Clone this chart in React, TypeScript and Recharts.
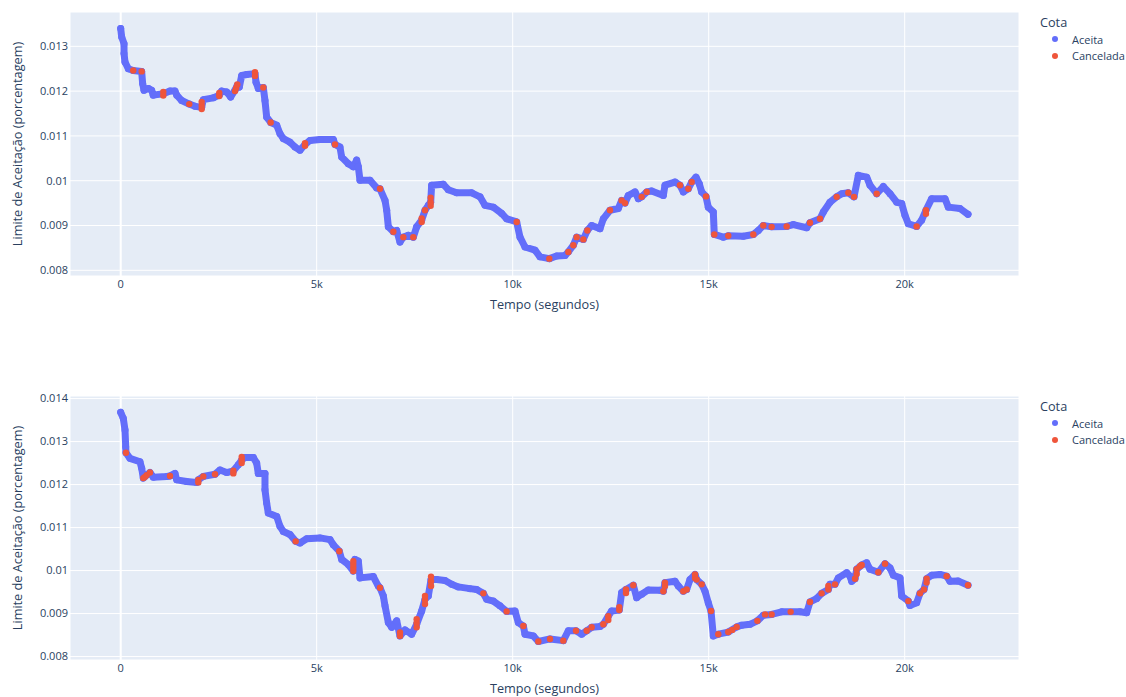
import {
  CartesianGrid,
  Legend,
  ReferenceLine,
  Scatter,
  ScatterChart,
  XAxis,
  YAxis,
} from "recharts";

// [tempo (s), limite de aceitação] — primeira simulação
const aceitaTopo: [number, number][] = [
  [0, 0.0134], [25, 0.01321], [85, 0.01306], [85, 0.01284], [110, 0.01265],
  [195, 0.0125], [320, 0.01246], [535, 0.01244], [560, 0.01217], [595, 0.01202],
  [705, 0.01206], [790, 0.01202], [830, 0.01191], [1087, 0.01194], [1258, 0.012],
  [1385, 0.012], [1430, 0.01191], [1556, 0.01179], [1750, 0.01171], [1895, 0.01166],
  [2066, 0.01164], [2108, 0.01181], [2363, 0.01185], [2515, 0.01191], [2576, 0.012],
  [2704, 0.01198], [2806, 0.01187], [2916, 0.01202], [2975, 0.01213], [3026, 0.01209],
  [3087, 0.01235], [3214, 0.01237], [3426, 0.01239], [3452, 0.0122], [3510, 0.01206],
  [3638, 0.01208], [3681, 0.01179], [3724, 0.01142], [3827, 0.0113], [3980, 0.01124],
  [4064, 0.01105], [4148, 0.01094], [4319, 0.01086], [4447, 0.01075], [4574, 0.01068],
  [4702, 0.01081], [4829, 0.0109], [5084, 0.01092], [5424, 0.01092], [5467, 0.01081],
  [5594, 0.01075], [5637, 0.01053], [5807, 0.01038], [5934, 0.01031], [6020, 0.01046],
  [6062, 0.01031], [6105, 0.01001], [6360, 0.01001], [6530, 0.00984], [6615, 0.00982],
  [6743, 0.00956], [6786, 0.00934], [6828, 0.00897], [6956, 0.00886], [7041, 0.00889],
  [7125, 0.00863], [7210, 0.00874], [7338, 0.00878], [7465, 0.00874], [7550, 0.00897],
  [7678, 0.00912], [7763, 0.00934], [7848, 0.00945], [7908, 0.00952], [7933, 0.0099],
  [8230, 0.00992], [8357, 0.0098], [8571, 0.00973], [8954, 0.00973], [9166, 0.00964],
  [9293, 0.00945], [9506, 0.00941], [9719, 0.00927], [9847, 0.00915], [10102, 0.00908],
  [10187, 0.00874], [10314, 0.00852], [10569, 0.00845], [10697, 0.0083], [10934, 0.00826],
  [11122, 0.00832], [11334, 0.00833], [11419, 0.00841], [11547, 0.00856], [11632, 0.00874],
  [11802, 0.00869], [11904, 0.00889], [12015, 0.009], [12227, 0.00893], [12312, 0.00915],
  [12482, 0.00934], [12694, 0.00938], [12780, 0.00956], [12865, 0.0095], [12949, 0.00967],
  [13120, 0.00975], [13205, 0.0096], [13290, 0.00964], [13418, 0.00975], [13545, 0.00977],
  [13843, 0.00967], [13885, 0.0099], [14140, 0.00997], [14268, 0.0099], [14353, 0.00975],
  [14480, 0.00982], [14566, 0.00997], [14676, 0.01008], [14760, 0.00993], [14821, 0.00975],
  [14931, 0.00965], [14990, 0.00941], [15118, 0.0093], [15143, 0.0088], [15373, 0.00874],
  [15500, 0.00877], [15883, 0.00876], [16138, 0.0088], [16266, 0.00889], [16393, 0.009],
  [16606, 0.00897], [16989, 0.00898], [17159, 0.00902], [17500, 0.00895], [17584, 0.00906],
  [17839, 0.00915], [17924, 0.0093], [18094, 0.00952], [18265, 0.00964], [18393, 0.00971],
  [18562, 0.00973], [18707, 0.00964], [18817, 0.01012], [19030, 0.01008], [19115, 0.0099],
  [19286, 0.00971], [19455, 0.00987], [19626, 0.00971], [19796, 0.00952], [19923, 0.00949],
  [20007, 0.00923], [20092, 0.00904], [20305, 0.00898], [20432, 0.00912], [20542, 0.00934],
  [20688, 0.0096], [21027, 0.0096], [21113, 0.00941], [21410, 0.00938], [21615, 0.00925],
];

const canceladaTopo: [number, number][] = [
  [320, 0.01246], [535, 0.01244], [1087, 0.01198], [1087, 0.0119], [1750, 0.01171],
  [2066, 0.0116], [2066, 0.01168], [2066, 0.01176], [2515, 0.01189], [2515, 0.01196],
  [2916, 0.012], [2945, 0.01207], [2975, 0.01215], [3426, 0.01234], [3426, 0.01242],
  [3638, 0.01208], [3827, 0.0113], [4702, 0.01078], [4702, 0.01084], [5467, 0.01081],
  [6615, 0.00982], [6956, 0.00886], [7210, 0.00874], [7465, 0.00874], [7678, 0.00908],
  [7678, 0.00916], [7763, 0.00934], [7908, 0.00944], [7908, 0.00952], [7908, 0.00962],
  [10102, 0.00908], [10934, 0.00826], [11419, 0.00841], [11547, 0.00856], [11632, 0.00874],
  [11802, 0.00869], [11904, 0.00889], [12482, 0.00934], [12780, 0.00956], [12865, 0.0095],
  [13290, 0.00964], [13418, 0.00975], [14268, 0.0099], [14480, 0.00982], [14566, 0.00997],
  [14931, 0.00965], [15143, 0.0088], [15500, 0.00877], [16138, 0.0088], [16393, 0.009],
  [16606, 0.00897], [16989, 0.00898], [17584, 0.00906], [17839, 0.00915], [18265, 0.00964],
  [18562, 0.00973], [18707, 0.00964], [19286, 0.00971], [20305, 0.00898], [20542, 0.00934],
  [20542, 0.00926],
];

// [tempo (s), limite de aceitação] — segunda simulação
const aceitaBase: [number, number][] = [
  [0, 0.01368], [66, 0.01354], [110, 0.01327], [128, 0.01288], [135, 0.01274],
  [237, 0.01261], [492, 0.01253], [536, 0.01238], [577, 0.01215], [663, 0.01222],
  [747, 0.01228], [832, 0.01217], [1173, 0.01219], [1258, 0.0122], [1385, 0.01226],
  [1429, 0.01211], [1684, 0.01207], [1939, 0.01205], [1981, 0.01211], [2108, 0.01219],
  [2406, 0.01224], [2534, 0.01234], [2704, 0.01228], [2874, 0.01232], [3001, 0.01246],
  [3087, 0.01257], [3171, 0.01263], [3383, 0.01263], [3469, 0.0125], [3510, 0.01226],
  [3681, 0.01226], [3681, 0.01188], [3724, 0.01157], [3765, 0.01134], [3980, 0.01126],
  [4064, 0.01103], [4148, 0.01091], [4319, 0.01084], [4464, 0.01068], [4574, 0.01064],
  [4745, 0.01074], [5084, 0.01076], [5339, 0.01072], [5424, 0.0106], [5577, 0.01045],
  [5637, 0.01026], [5807, 0.01014], [5934, 0.00999], [5977, 0.01026], [6062, 0.01022],
  [6105, 0.00983], [6445, 0.00986], [6572, 0.00964], [6615, 0.0096], [6700, 0.00941],
  [6743, 0.00918], [6828, 0.00879], [6913, 0.00868], [7041, 0.00883], [7125, 0.00848],
  [7253, 0.00862], [7423, 0.00852], [7550, 0.00875], [7678, 0.00906], [7763, 0.00933],
  [7848, 0.00941], [7917, 0.00979], [8061, 0.00979], [8273, 0.00977], [8443, 0.00968],
  [8613, 0.00962], [8911, 0.00958], [9081, 0.00956], [9251, 0.00947], [9336, 0.00933],
  [9506, 0.00929], [9676, 0.00918], [9847, 0.00905], [10059, 0.00906], [10144, 0.00879],
  [10272, 0.00871], [10314, 0.00852], [10526, 0.00848], [10654, 0.00835], [10952, 0.00841],
  [11291, 0.00837], [11419, 0.0086], [11615, 0.0086], [11760, 0.00852], [11887, 0.0086],
  [12015, 0.00868], [12227, 0.0087], [12312, 0.00875], [12439, 0.00894], [12525, 0.00906],
  [12719, 0.00908], [12780, 0.00949], [12890, 0.00956], [13077, 0.00966], [13162, 0.00937],
  [13290, 0.00945], [13460, 0.00955], [13758, 0.00954], [13843, 0.00952], [13885, 0.00972],
  [14140, 0.00975], [14225, 0.00964], [14353, 0.00952], [14438, 0.00956], [14523, 0.00979],
  [14651, 0.00991], [14694, 0.00979], [14821, 0.00968], [14906, 0.00952], [14990, 0.00925],
  [15059, 0.00906], [15118, 0.00848], [15245, 0.00852], [15500, 0.00857], [15714, 0.00869],
  [15842, 0.00873], [16054, 0.00875], [16241, 0.00883], [16393, 0.00896], [16606, 0.00898],
  [16862, 0.00904], [17329, 0.00904], [17500, 0.00902], [17584, 0.00927], [17755, 0.00935],
  [17882, 0.00947], [18052, 0.00956], [18094, 0.00968], [18222, 0.00968], [18307, 0.00983],
  [18520, 0.00995], [18605, 0.00987], [18648, 0.00975], [18733, 0.00981], [18775, 0.01003],
  [18903, 0.01013], [19030, 0.01018], [19115, 0.01003], [19327, 0.00996], [19498, 0.01016],
  [19626, 0.01006], [19711, 0.00989], [19881, 0.00983], [19923, 0.00941], [20092, 0.00929],
  [20134, 0.00919], [20305, 0.00925], [20390, 0.00947], [20492, 0.00956], [20560, 0.00981],
  [20688, 0.00989], [20900, 0.00991], [21070, 0.00987], [21155, 0.00975], [21360, 0.00976],
  [21615, 0.00966],
];

const canceladaBase: [number, number][] = [
  [135, 0.01274], [577, 0.01215], [620, 0.01218], [663, 0.01222], [747, 0.01228],
  [1258, 0.0122], [1981, 0.01211], [1981, 0.01205], [2108, 0.01219], [2406, 0.01224],
  [2874, 0.01232], [2874, 0.01226], [3087, 0.0125], [3087, 0.01257], [3087, 0.01264],
  [4464, 0.01068], [5577, 0.01045], [5934, 0.00999], [5934, 0.01007], [5934, 0.01015],
  [5934, 0.01022], [6615, 0.0096], [7125, 0.00848], [7125, 0.00856], [7550, 0.00868],
  [7550, 0.00878], [7550, 0.00887], [7763, 0.00922], [7763, 0.00932], [7763, 0.00941],
  [7917, 0.00964], [7917, 0.00975], [7917, 0.00986], [9251, 0.00947], [9847, 0.00905],
  [10272, 0.00871], [10654, 0.00835], [10952, 0.00841], [11291, 0.00837], [11615, 0.0086],
  [11887, 0.0086], [12015, 0.00868], [12312, 0.00875], [12439, 0.00885], [12439, 0.00894],
  [12719, 0.00908], [12719, 0.00915], [12890, 0.00948], [12890, 0.00956], [13077, 0.00966],
  [13843, 0.00952], [13885, 0.00964], [13885, 0.00972], [14353, 0.00952], [14438, 0.00956],
  [14651, 0.00983], [14651, 0.00991], [14694, 0.00979], [14821, 0.00968], [15059, 0.00906],
  [15245, 0.00852], [15500, 0.00857], [15600, 0.00862], [15714, 0.00869], [16241, 0.00883],
  [16436, 0.00898], [16606, 0.00898], [17091, 0.00904], [17584, 0.00927], [17882, 0.00947],
  [18052, 0.00956], [18052, 0.00964], [18222, 0.00968], [18733, 0.00981], [18775, 0.00992],
  [18775, 0.01003], [18860, 0.0101], [18903, 0.01013], [19327, 0.00996], [19498, 0.01016],
  [20092, 0.00929], [20390, 0.00947], [20492, 0.00956], [20560, 0.00972], [20560, 0.00981],
  [21070, 0.00987], [21615, 0.00966],
];

const xTicks = [0, 5000, 10000, 15000, 20000];
const yTicksTopo = [0.008, 0.009, 0.01, 0.011, 0.012, 0.013];
const yTicksBase = [0.008, 0.009, 0.01, 0.011, 0.012, 0.013, 0.014];

const AZUL = "#636efa";
const VERMELHO = "#ef553b";
const TEXTO = "#2a3f5f";
const FONTE = '"Open Sans", verdana, arial, sans-serif';

const fmtX = (v: number) => (v === 0 ? "0" : `${v / 1000}k`);
const fmtY = (v: number) => String(Number(v.toFixed(3)));

const toRows = (arr: [number, number][]) => arr.map(([t, v]) => ({ t, v }));

const ponto = (cor: string, r: number) => (p: any) => (
  <circle cx={p.cx} cy={p.cy} r={r} fill={cor} />
);

function YTitle(props: any) {
  const vb = props.viewBox || { x: 0, y: 12, height: 264 };
  const cx = vb.x + 17;
  const cy = vb.y + vb.height / 2;
  return (
    <text
      x={cx}
      y={cy}
      transform={`rotate(-90 ${cx} ${cy})`}
      textAnchor="middle"
      dominantBaseline="central"
      fill={TEXTO}
      fontFamily={FONTE}
      fontSize={12.7}
    >
      Limite de Aceitação (porcentagem)
    </text>
  );
}

function CotaLegend({ payload }: any) {
  return (
    <div style={{ fontFamily: FONTE, color: TEXTO, textAlign: "left" }}>
      <div style={{ fontSize: 12.7, lineHeight: "18px", marginLeft: 2 }}>Cota</div>
      {(payload || []).map((p: any) => (
        <div
          key={p.value}
          style={{ display: "flex", alignItems: "center", height: 16.5, fontSize: 11 }}
        >
          <svg width={34} height={16}>
            <circle cx={17} cy={8} r={3} fill={p.color} />
          </svg>
          <span>{p.value}</span>
        </div>
      ))}
    </div>
  );
}

function Painel({
  aceita,
  cancelada,
  yDomain,
  yTicks,
  top,
}: {
  aceita: [number, number][];
  cancelada: [number, number][];
  yDomain: [number, number];
  yTicks: number[];
  top: number;
}) {
  return (
    <div style={{ position: "absolute", left: 0, top }}>
      <ScatterChart
        width={1126}
        height={350}
        margin={{ top: 12, right: 107, bottom: 38, left: 0 }}
      >
        <CartesianGrid fill="#e5ecf6" stroke="#ffffff" strokeWidth={1} />
        <XAxis
          type="number"
          dataKey="t"
          domain={[-1293, 22916]}
          ticks={xTicks}
          tickFormatter={fmtX}
          axisLine={false}
          tickLine={false}
          tickSize={0}
          tickMargin={4}
          height={36}
          allowDataOverflow
          tick={{ fill: TEXTO, fontSize: 11, fontFamily: FONTE }}
          label={{
            value: "Tempo (segundos)",
            position: "insideBottom",
            offset: 3,
            fill: TEXTO,
            fontSize: 12.7,
            fontFamily: FONTE,
          }}
        />
        <YAxis
          type="number"
          dataKey="v"
          domain={yDomain}
          ticks={yTicks}
          tickFormatter={fmtY}
          axisLine={false}
          tickLine={false}
          tickSize={0}
          tickMargin={2}
          width={70}
          allowDataOverflow
          tick={{ fill: TEXTO, fontSize: 11, fontFamily: FONTE }}
          label={{ content: YTitle }}
        />
        <ReferenceLine x={0} stroke="#ffffff" strokeWidth={2} />
        <Legend
          layout="vertical"
          verticalAlign="middle"
          align="center"
          content={CotaLegend}
          wrapperStyle={{ top: 13, left: 1038, width: 90 }}
        />
        <Scatter
          name="Aceita"
          data={toRows(aceita)}
          fill={AZUL}
          shape={ponto(AZUL, 3.5)}
          line={{ stroke: AZUL, strokeWidth: 7, strokeLinejoin: "round", strokeLinecap: "round" }}
          lineType="joint"
          isAnimationActive={false}
        />
        <Scatter
          name="Cancelada"
          data={toRows(cancelada)}
          fill={VERMELHO}
          shape={ponto(VERMELHO, 3.2)}
          isAnimationActive={false}
        />
      </ScatterChart>
    </div>
  );
}

export default function App() {
  return (
    <div
      style={{
        position: "absolute",
        left: 0,
        top: 0,
        width: 1126,
        height: 697,
        background: "#ffffff",
        overflow: "hidden",
      }}
    >
      <Painel
        aceita={aceitaTopo}
        cancelada={canceladaTopo}
        yDomain={[0.007873, 0.013766]}
        yTicks={yTicksTopo}
        top={0}
      />
      <Painel
        aceita={aceitaBase}
        cancelada={canceladaBase}
        yDomain={[0.00792, 0.01406]}
        yTicks={yTicksBase}
        top={384}
      />
    </div>
  );
}
